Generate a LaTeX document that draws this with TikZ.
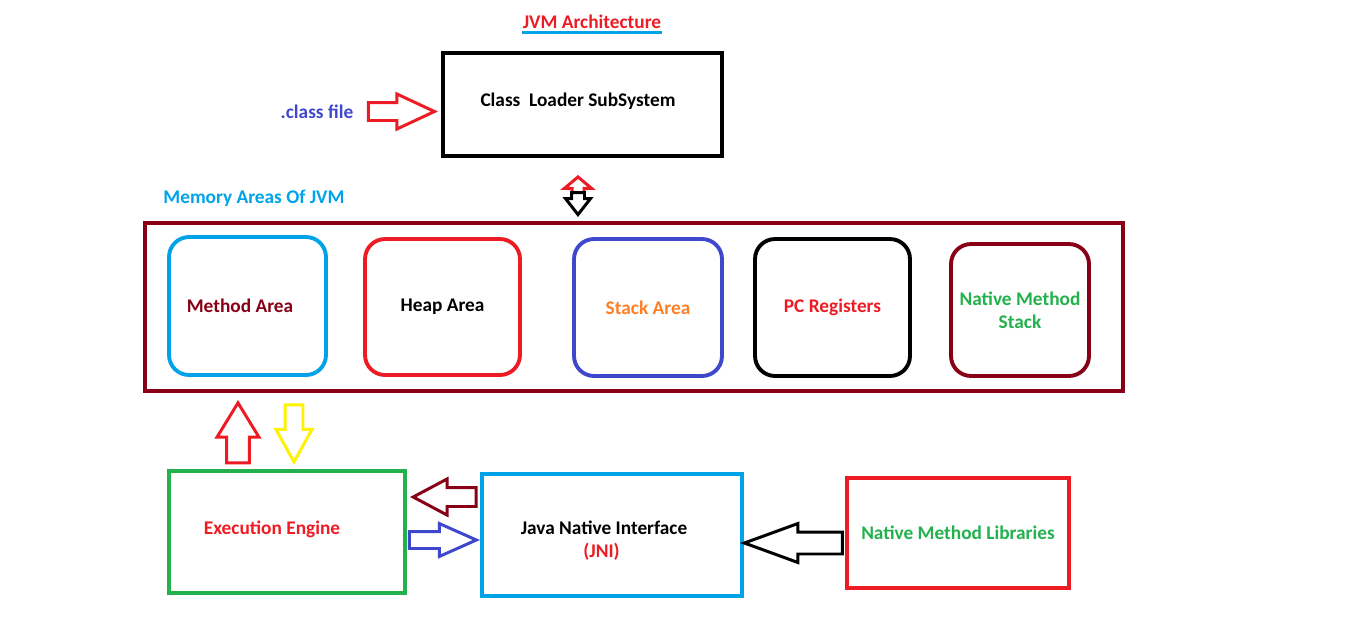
\documentclass[tikz,border=0pt]{standalone}
\usepackage{fontspec}
\setmainfont{Carlito}
\usepackage{tikz}
\usetikzlibrary{shapes.arrows,positioning}
\definecolor{jred}{HTML}{ED1C24}
\definecolor{jblue}{HTML}{3F48CC}
\definecolor{jcyan}{HTML}{00A2E8}
\definecolor{jmaroon}{HTML}{880015}
\definecolor{jgreen}{HTML}{22B14C}
\definecolor{jorange}{HTML}{FF7F27}
\definecolor{jyellow}{HTML}{FFF200}
\tikzset{
	lbl/.style={font=\fontsize{11}{13}\selectfont\bfseries, align=center},
	sqbox/.style={draw=#1, line width=2.2pt, lbl},
	rbox/.style={draw=#1, line width=2.2pt, rounded corners=0.4cm, lbl},
	barrow/.style={single arrow, draw=#1, fill=white, line width=1.7pt, anchor=tip}
}
\begin{document}
\begin{tikzpicture}[x=0.02cm, y=-0.02cm]
				\useasboundingbox (0,0) rectangle (1360,623);
				% title and loader
				\node[lbl, text=jred, inner sep=0pt] (title) at (592,22) {JVM Architecture};
				\draw[jcyan, line width=1.7pt] ([yshift=-2pt]title.south west)--([yshift=-2pt]title.south east);
				\node[sqbox=black, minimum width=5.58cm, minimum height=2.06cm] (loader) at (582.5,104.5) {};
				\node[lbl] (loadertext) at (578,101) {Class\ \ Loader SubSystem};
				\node[lbl, text=jblue] (classfile) at (317,112) {.class file};
				\node[barrow=jred, minimum height=1.32cm, inner sep=0.15cm, single arrow head extend=0.17cm, single arrow tip angle=50] (cfarrow) at (438,111.5) {};
				\node[barrow=jred, minimum height=0.36cm, inner sep=0.09cm, single arrow head extend=0.15cm, single arrow tip angle=100, shape border rotate=90] (uparrow) at (578,175) {};
				\node[barrow=black, minimum height=0.44cm, inner sep=0.1cm, single arrow head extend=0.12cm, single arrow tip angle=76, shape border rotate=270] (downarrow) at (578,217) {};
				% memory areas
				\node[lbl, text=jcyan] (memlabel) at (254,198) {Memory Areas Of JVM};
				\node[draw=jmaroon, line width=2.2pt, minimum width=19.56cm, minimum height=3.36cm] (memory) at (634,307) {};
				\node[rbox=jcyan, text=jmaroon, minimum width=3.14cm, minimum height=2.76cm] (method) at (247.5,306) {\hspace{-0.3cm}Method Area};
				\node[rbox=jred, text=black, minimum width=3.1cm, minimum height=2.72cm] (heap) at (442.5,307) {Heap Area};
				\node[rbox=jblue, text=jorange, minimum width=2.96cm, minimum height=2.74cm] (stack) at (648,307.5) {Stack Area};
				\node[rbox=black, text=jred, minimum width=3.1cm, minimum height=2.74cm] (pc) at (832.5,307.5) {PC Registers};
				\node[rbox=jmaroon, text=jgreen, minimum width=2.76cm, minimum height=2.64cm] (nms) at (1020,310) {Native Method\\Stack};
				% engine and native side
				\node[barrow=jred, minimum height=1.2cm, inner sep=0.2cm, single arrow head extend=0.19cm, single arrow tip angle=63, shape border rotate=90] (toarea) at (238,400) {};
				\node[barrow=jyellow, minimum height=1.14cm, inner sep=0.15cm, single arrow head extend=0.18cm, single arrow tip angle=58, shape border rotate=270] (toengine) at (294,465) {};
				\node[sqbox=jgreen, minimum width=4.72cm, minimum height=2.44cm] (engine) at (287,532) {};
				\node[lbl, text=jred] (enginetext) at (272,529) {Execution Engine};
				\node[sqbox=jcyan, minimum width=5.2cm, minimum height=2.44cm] (jni) at (612,535) {};
				\node[lbl] (jnitext) at (604,541) {Java Native Interface\\{\color{jred}\hspace{-0.1cm}(JNI)}};
				\node[sqbox=jred, text=jgreen, minimum width=4.44cm, minimum height=2.2cm] (nml) at (958,533) {Native Method Libraries};
				\node[barrow=jmaroon, minimum height=1.26cm, inner sep=0.16cm, single arrow head extend=0.17cm, single arrow tip angle=56, shape border rotate=180] (jnitoeng) at (410,497) {};
				\node[barrow=jblue, minimum height=1.34cm, inner sep=0.14cm, single arrow head extend=0.16cm, single arrow tip angle=48] (engtojni) at (480,540) {};
				\node[barrow=black, minimum height=1.96cm, inner sep=0.19cm, single arrow head extend=0.17cm, single arrow tip angle=40, shape border rotate=180] (libtojni) at (740,543) {};
			\end{tikzpicture}
\end{document}
